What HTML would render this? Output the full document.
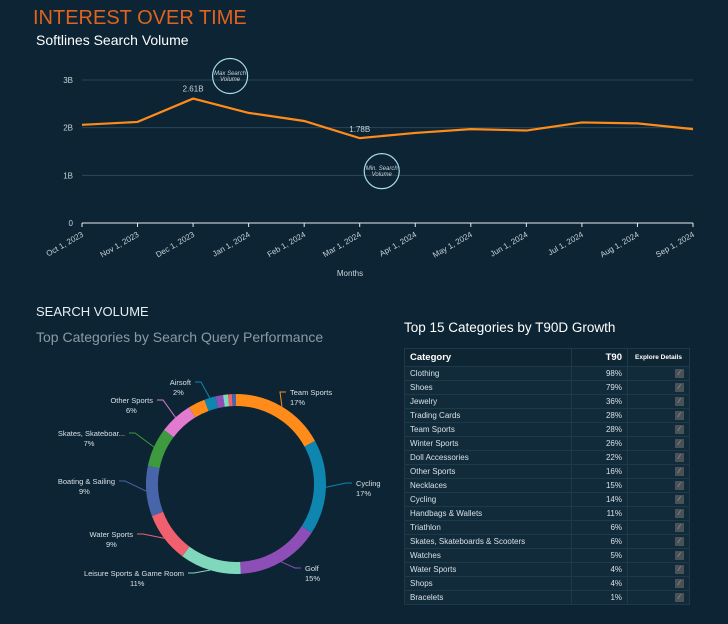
<!DOCTYPE html>
<html><head><meta charset="utf-8"><style>
body{margin:0;width:728px;height:624px;background:#0c2433;font-family:"Liberation Sans",sans-serif;overflow:hidden;position:relative;color:#fff}
.abs{position:absolute;white-space:nowrap}
table{border-collapse:collapse;position:absolute;left:404px;top:348px;width:286px;font-size:8px;color:#d7e0e6}
td,th{border:1px solid #1e3a4a;height:13px;padding:0 5px;background:#112b3a}
th{background:#0e2533;height:17px;font-size:9.5px;color:#fff;text-align:left}
td.n,th.n{text-align:right}
.ic{display:inline-block;width:9px;height:9px;background:#4b5257;float:right;color:#aaa;font-size:7px;line-height:9px;text-align:center}
</style></head><body>
<div class="abs" style="left:33px;top:7px;font-size:20px;color:#e0631f">INTEREST OVER TIME</div>
<div class="abs" style="left:36px;top:32px;font-size:14px;color:#fff">Softlines Search Volume</div>
<svg class="abs" id="line" style="left:0;top:0" width="728" height="290"></svg>
<div class="abs" style="left:36px;top:304px;font-size:13px;color:#e8eef2">SEARCH VOLUME</div>
<div class="abs" style="left:36px;top:329px;font-size:14px;color:#8a9aa6">Top Categories by Search Query Performance</div>
<svg class="abs" id="donut" style="left:0;top:360px" width="400" height="264"></svg>
<div class="abs" style="left:404px;top:320px;font-size:13.5px;color:#fff">Top 15 Categories by T90D Growth</div>
<table id="tbl"><tr><th style="width:156px">Category</th><th class="n" style="width:45px">T90</th><th style="font-size:6.5px;text-align:center">Explore Details</th></tr></table>
<script>
const months=["Oct 1, 2023","Nov 1, 2023","Dec 1, 2023","Jan 1, 2024","Feb 1, 2024","Mar 1, 2024","Apr 1, 2024","May 1, 2024","Jun 1, 2024","Jul 1, 2024","Aug 1, 2024","Sep 1, 2024"];
const volume=[2.06,2.12,2.61,2.31,2.14,1.78,1.89,1.97,1.94,2.11,2.09,1.97];
const yTicks=[0,1,2,3];
const yTickLabels=["0","1B","2B","3B"];
const slices=["Team Sports","Cycling","Golf","Leisure Sports & Game Room","Water Sports","Boating & Sailing","Skates, Skateboar...","Other Sports","Misc1","Airsoft","Misc2","Misc3","Misc4","Misc5"];
const shares=[17,17,15,11,9,9,7,6,3,2,1.4,0.9,0.7,0.7];
const cats=["Clothing","Shoes","Jewelry","Trading Cards","Team Sports","Winter Sports","Doll Accessories","Other Sports","Necklaces","Cycling","Handbags & Wallets","Triathlon","Skates, Skateboards & Scooters","Watches","Water Sports","Shops","Bracelets"];
const growth=[98,79,36,28,28,26,22,16,15,14,11,6,6,5,4,4,1];
const NS="http://www.w3.org/2000/svg";
function mk(p,t,a){const e=document.createElementNS(NS,t);for(const k in a)e.setAttribute(k,a[k]);p.appendChild(e);return e;}
const L=document.getElementById('line');
const x0=82,x1=693,yb=223,yt=80;
const xs=i=>x0+(x1-x0)*i/(months.length-1);
const ys=v=>yb-(yb-yt)*v/3;
yTicks.forEach((t,i)=>{
 if(t>0){const g=mk(L,'line',{x1:x0,x2:x1,y1:ys(t),y2:ys(t),stroke:'#2b4654','stroke-width':1});}
 const tx=mk(L,'text',{x:73,y:ys(t)+3,'text-anchor':'end','font-size':8,fill:'#c9d3da'});tx.textContent=yTickLabels[i];
 
});
const ax=mk(L,'line',{x1:x0,x2:x1,y1:yb,y2:yb,stroke:'#e6ecef','stroke-width':1});

months.forEach((m,i)=>{
 mk(L,'line',{x1:xs(i),x2:xs(i),y1:yb,y2:yb+4,stroke:'#e6ecef'});
 const t=mk(L,'text',{x:xs(i)+2,y:yb+13,'text-anchor':'end','font-size':8,fill:'#c9d3da',transform:`rotate(-30 ${xs(i)+2} ${yb+13})`});t.textContent=m;
 
});
const xt=mk(L,'text',{x:350,y:276,'text-anchor':'middle','font-size':8,fill:'#c9d3da'});xt.textContent='Months';

const pl=mk(L,'polyline',{points:volume.map((v,i)=>xs(i)+','+ys(v)).join(' '),fill:'none',stroke:'#ff8c1a','stroke-width':2.2});

const imax=volume.indexOf(Math.max(...volume)),imin=volume.indexOf(Math.min(...volume));
[[imax,-7],[imin,-6]].forEach(([i,d])=>{const t=mk(L,'text',{x:xs(i),y:ys(volume[i])+d,'text-anchor':'middle','font-size':8,fill:'#c9d3da'});t.textContent=volume[i].toFixed(2)+'B';
 });
[[xs(imax)+37,ys(3)-4,'Max Search'],[xs(imin)+22,ys(volume[imin])+33,'Min. Search']].forEach(([cx,cy,l])=>{
 const c=mk(L,'circle',{cx,cy,r:17.5,fill:'none',stroke:'#a9dcef','stroke-width':1.2});
 
 const t1=mk(L,'text',{x:cx,y:cy-1,'text-anchor':'middle','font-size':6,'font-style':'italic',fill:'#c9d3da'});t1.textContent=l;
 const t2=mk(L,'text',{x:cx,y:cy+5,'text-anchor':'middle','font-size':6,'font-style':'italic',fill:'#c9d3da'});t2.textContent='Volume';
});
const D=document.getElementById('donut');
const colors=['#ff8c1a','#0e86b0','#8e4eb8','#7fd8bb','#f0606f','#4765a8','#3e9a3e','#e27bcf','#ff8c1a','#0e86b0','#8e4eb8','#7fd8bb','#f0606f','#4765a8'];
const cx=236,cy=124,R=84,W=12;
const tot=shares.reduce((a,b)=>a+b,0);
let acc=0;
const labelled={0:[290,35,'start'],1:[356,126,'start'],2:[305,211,'start'],3:[184,216,'end'],4:[133,177,'end'],5:[115,124,'end'],6:[125,76,'end'],7:[153,43,'end'],9:[191,25,'end']};
shares.forEach((s,i)=>{
 const a0=acc/tot*2*Math.PI,a1=(acc+s)/tot*2*Math.PI;acc+=s;
 const p=(a)=>[cx+R*Math.sin(a),cy-R*Math.cos(a)];
 const [xa,ya]=p(a0),[xb,yb2]=p(a1);
 const path=mk(D,'path',{d:`M${xa},${ya} A${R},${R} 0 ${a1-a0>Math.PI?1:0} 1 ${xb},${yb2}`,fill:'none',stroke:colors[i],'stroke-width':W});
 
 if(labelled[i]){
  const [lx,ly,anc]=labelled[i];const am=(a0+a1)/2;const [mx,my]=[cx+(R+6)*Math.sin(am),cy-(R+6)*Math.cos(am)];
  const ex=anc==='start'?lx-4:lx+4;
  mk(D,'polyline',{points:`${mx},${my} ${ex-(anc==='start'?6:-6)},${ly-3} ${ex},${ly-3}`,fill:'none',stroke:colors[i],'stroke-width':1});
  const t=mk(D,'text',{x:lx,y:ly,'text-anchor':anc,'font-size':7.5,fill:'#d7e0e6'});t.textContent=slices[i];
  
  const t2=mk(D,'text',{x:lx,y:ly+10,'text-anchor':anc,'font-size':7.5,fill:'#d7e0e6'});t2.textContent=Math.round(s)+'%';
  if(anc==='end'){t2.setAttribute('text-anchor','middle');t2.setAttribute('x',lx-slices[i].length*1.8);}
  
 }
});
const T=document.getElementById('tbl');
cats.forEach((c,i)=>{
 const tr=document.createElement('tr');
 
 
 tr.innerHTML=`<td>${c}</td><td class="n">${growth[i]}%</td><td><span class="ic">&#8725;</span></td>`;
 T.appendChild(tr);
 const b=tr.querySelector('.ic');
 
 
});
</script>
</body></html>
